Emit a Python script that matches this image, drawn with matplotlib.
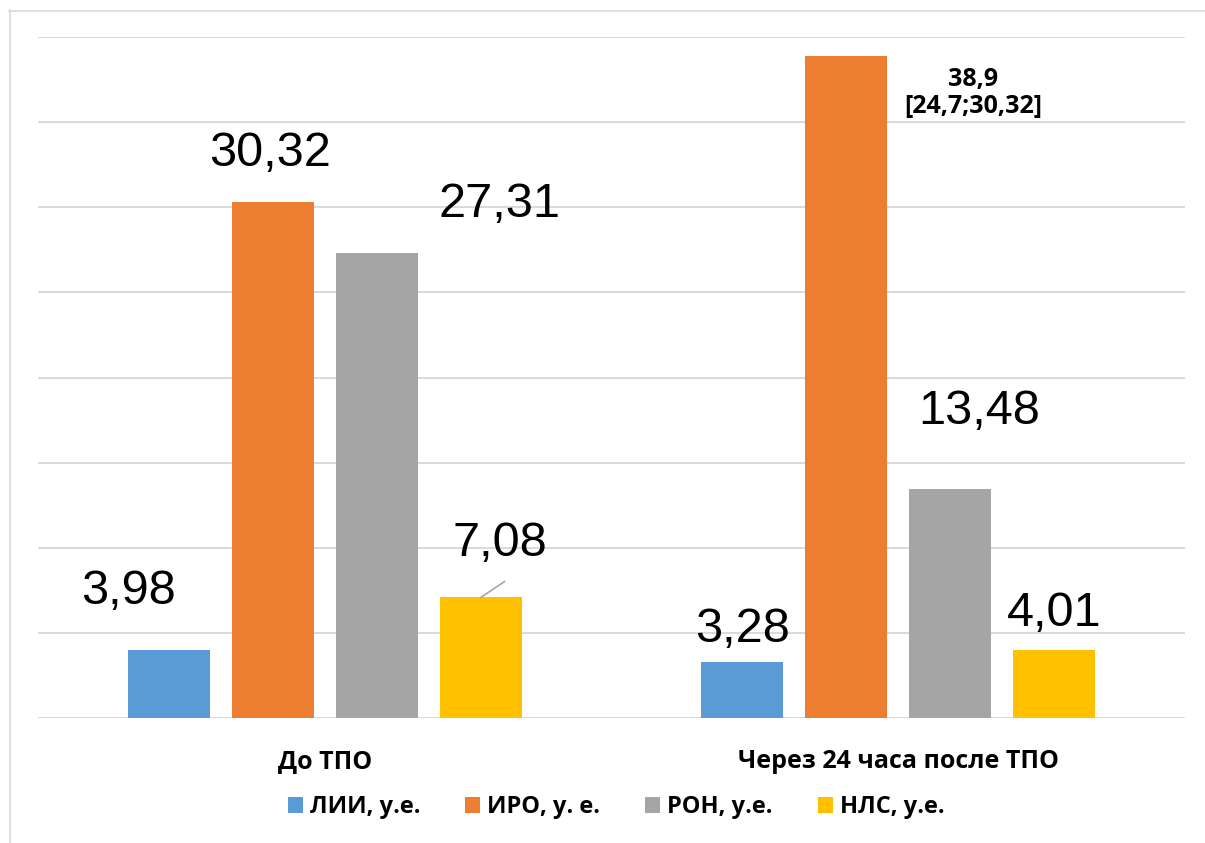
import matplotlib
matplotlib.use("Agg")
import matplotlib.pyplot as plt
from matplotlib.patches import Patch
from matplotlib.lines import Line2D
import numpy as np

categories = ["До ТПО", "Через 24 часа после ТПО"]
series_names = ["ЛИИ, у.е.", "ИРО, у. е.", "РОН, у.е.", "НЛС, у.е."]
lii = [3.98, 3.28]
iro = [30.32, 38.9]
ron = [27.31, 13.48]
nls = [7.08, 4.01]
colors = ["#5B9BD5", "#ED7D31", "#A5A5A5", "#FFC000"]

W, H = 1205, 843
fig = plt.figure(figsize=(W / 100, H / 100), dpi=100)
ax = fig.add_axes([38 / W, 1 - 718 / H, (1185 - 38) / W, (718 - 37) / H])

series = [lii, iro, ron, nls]
x = np.arange(len(categories))
step = 0.1813
width = 0.143
offsets = (np.arange(4) - 1.5) * step

for i, vals in enumerate(series):
    ax.bar(x + offsets[i], vals, width=width, color=colors[i], zorder=3)

ax.set_xlim(-0.5, 1.5)
ax.set_ylim(0, 40)
ax.set_yticks(np.arange(0, 41, 5))
ax.yaxis.grid(True, color="#d9d9d9", lw=1.4, zorder=0)
ax.tick_params(axis="y", left=False, labelleft=False)
ax.tick_params(axis="x", bottom=False, labelbottom=False)
for s in ax.spines.values():
    s.set_visible(False)

BOLD = "Open Sans"
# category names below the baseline
for xi, name in zip(x, categories):
    ax.annotate(name, xy=(xi, 0), xycoords=("data", "axes fraction"),
                xytext=(0, -50), textcoords="offset pixels",
                ha="center", va="baseline", fontsize=18, fontweight="bold",
                family=BOLD)

big = dict(fontsize=35, family="Liberation Sans", ha="center", va="center")
# value labels: (series index, category index, label text, pixel offset)
labels = [
    (0, 0, "3,98", (-40, 59)),
    (1, 0, "30,32", (-3, 48)),
    (2, 0, "27,31", (123, 49)),
    (3, 0, "7,08", (19, 54)),
    (0, 1, "3,28", (0, 33)),
    (2, 1, "13,48", (29, 77)),
    (3, 1, "4,01", (0, 36)),
]
for si, ci, txt, off in labels:
    ax.annotate(txt, xy=(x[ci] + offsets[si], series[si][ci]), xytext=off,
                textcoords="offset pixels", **big)

# leader line for the 7,08 label
ax.annotate("", xy=(x[0] + offsets[3], nls[0]), xytext=(24, 16),
            textcoords="offset pixels",
            arrowprops=dict(arrowstyle="-", color="#a6a6a6", lw=1.2,
                            shrinkA=0, shrinkB=0))

ax.annotate("38,9\n[24,7;30,32]", xy=(x[1] + offsets[1], iro[1]),
            xytext=(127, -37), textcoords="offset pixels",
            ha="center", va="center", fontsize=18, fontweight="bold",
            family=BOLD, linespacing=1.1)

handles = [Patch(facecolor=c, edgecolor="none") for c in colors]
fig.legend(handles, series_names, loc="center",
           bbox_to_anchor=(616 / W, 1 - 807 / H), ncol=4, frameon=False,
           handlelength=0.64, handleheight=0.64, handletextpad=0.3,
           columnspacing=1.9, borderpad=0,
           prop=dict(family=BOLD, weight="bold", size=17))

# chart frame
fig.add_artist(Line2D([9.5 / W, 9.5 / W], [0, 1 - 10 / H], color="#d9d9d9", lw=1.2))
fig.add_artist(Line2D([9 / W, 1], [1 - 10.5 / H, 1 - 10.5 / H], color="#d9d9d9", lw=1.2))

fig.savefig("out.png", dpi=100, facecolor="white")
